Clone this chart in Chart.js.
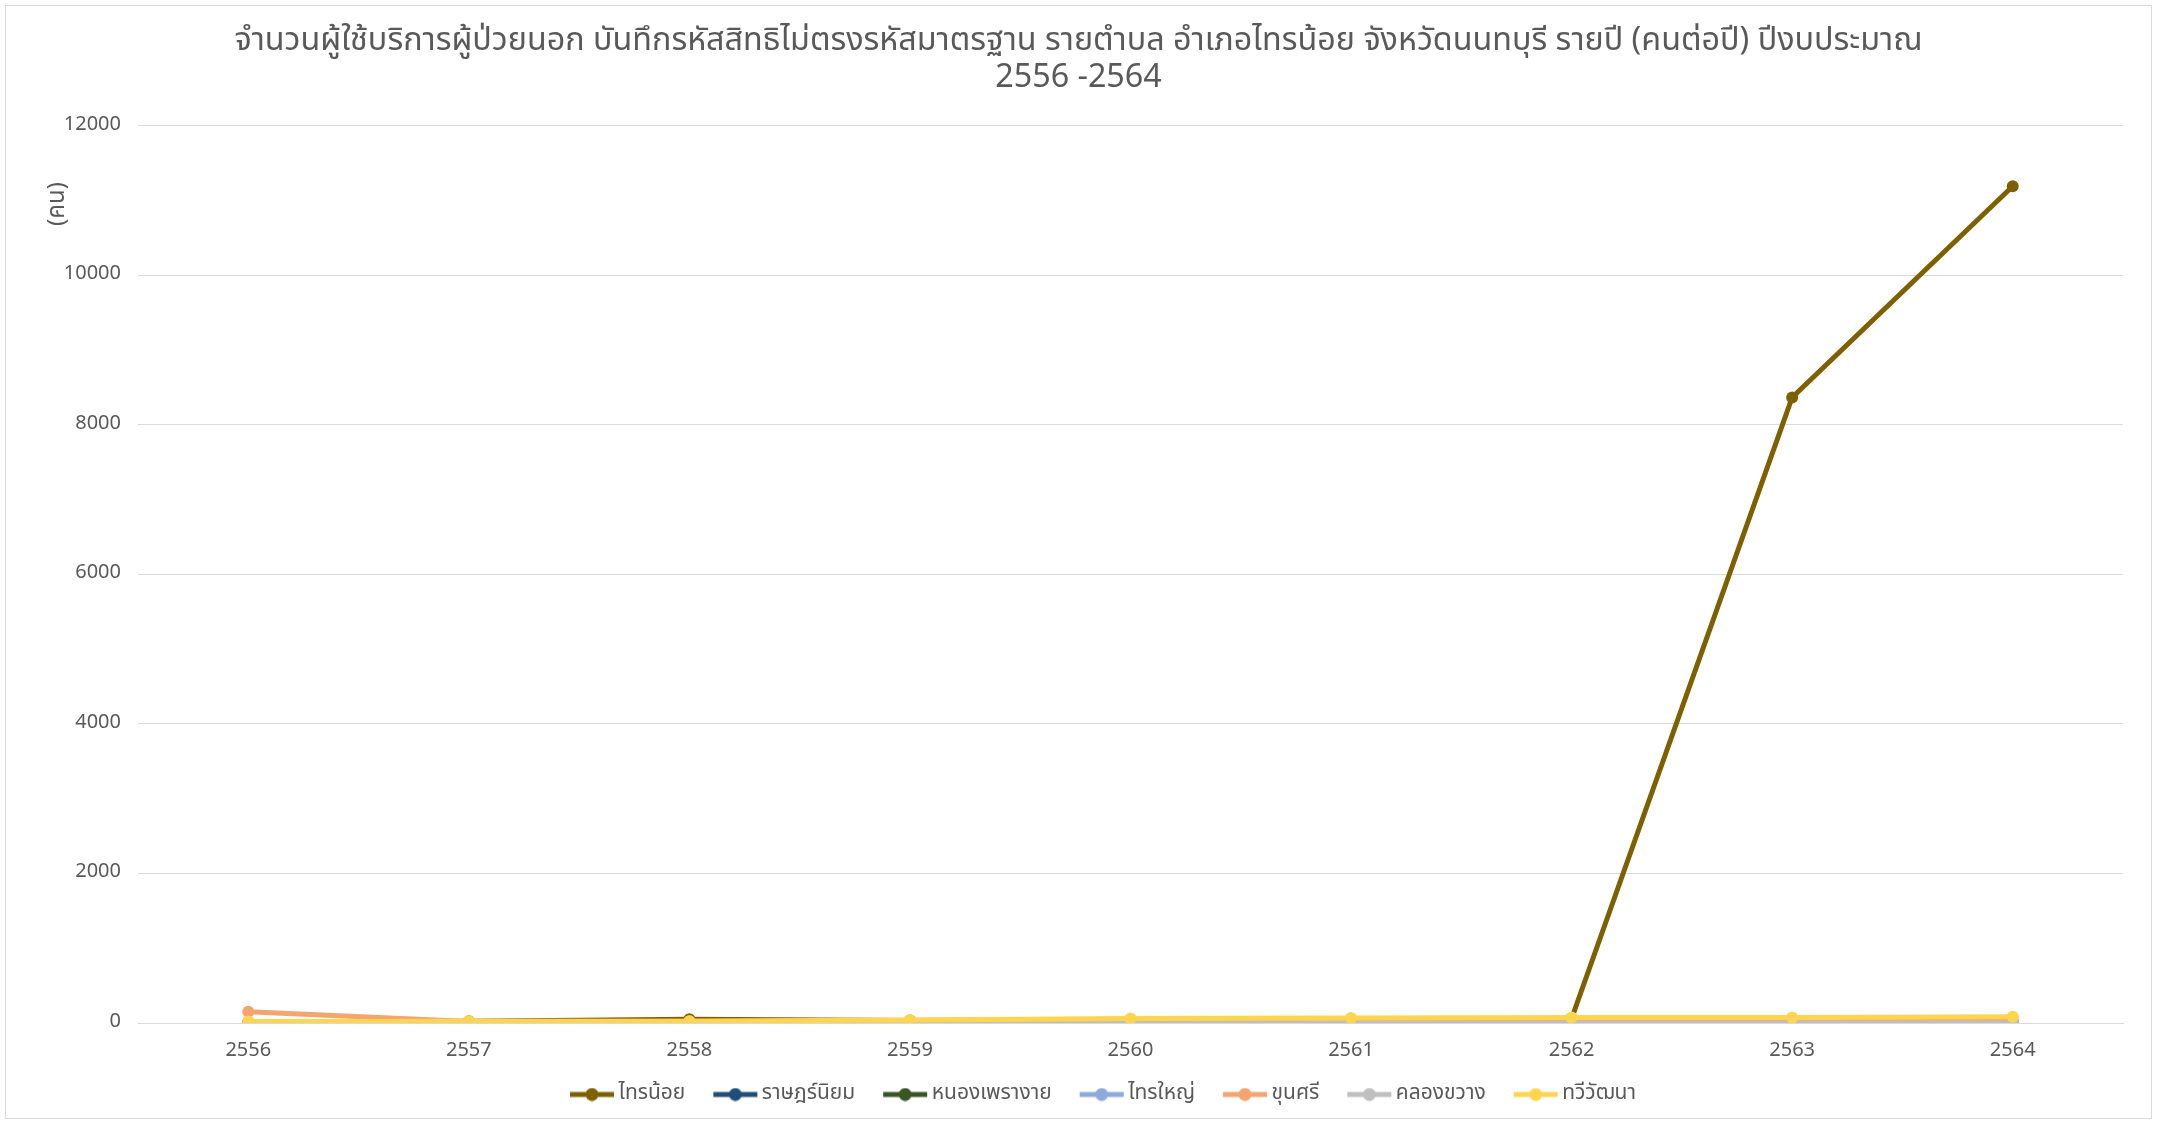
<!DOCTYPE html>
<html>
<head>
<meta charset="utf-8">
<script src="https://cdn.jsdelivr.net/npm/chart.js@4.4.1/dist/chart.umd.min.js"></script>
<style>
html,body{margin:0;padding:0;background:#fff;}
#wrap{width:2157px;height:1124px;position:relative;}
</style>
</head>
<body>
<div id="wrap"><canvas id="c" width="2157" height="1124"></canvas></div>
<script>
// ---- data ----
const categories = ["2556","2557","2558","2559","2560","2561","2562","2563","2564"];
const seriesNames = ["ไทรน้อย","ราษฎร์นิยม","หนองเพรางาย","ไทรใหญ่","ขุนศรี","คลองขวาง","ทวีวัฒนา"];
const saiNoi      = [10, 25, 50, 35, 45, 55, 60, 8365, 11190];
const ratNiyom    = [2, 1, 3, 2, 3, 4, 3, 5, 4];
const nongPhrao   = [5, 10, 15, 10, 12, 15, 12, 10, 8];
const saiYai      = [3, 5, 4, 6, 5, 8, 7, 6, 5];
const khunSi      = [150, 20, 25, 35, 50, 55, 60, 55, 55];
const khlongKhwang= [0, 1, 1, 0, 0, 0, 0, 0, 0];
const thawiWatthana=[20, 22, 25, 40, 60, 68, 75, 75, 85];
const yTicks = [0, 2000, 4000, 6000, 8000, 10000, 12000];
const titleLines = ["จำนวนผู้ใช้บริการผู้ป่วยนอก บันทึกรหัสสิทธิไม่ตรงรหัสมาตรฐาน รายตำบล อำเภอไทรน้อย จังหวัดนนทบุรี รายปี (คนต่อปี) ปีงบประมาณ", "2556 -2564"];
const yTitle = "(คน)";

const colors = ["#7F6000","#1F4E79","#375623","#8EA9DB","#F4A46F","#BFBFBF","#FFD54F"];
const values = [saiNoi, ratNiyom, nongPhrao, saiYai, khunSi, khlongKhwang, thawiWatthana];

const FONT = "'Noto Sans Thai','Leelawadee UI',Tahoma,'Open Sans','Noto Sans',sans-serif";
const TXT = "#595959";

// legend icon: line + dot, placed so it sits close to its text
const LEG_BOX = 63, LEG_W = 77, LEG_H = 14;
function legendIcon(color){
  const cv = document.createElement('canvas');
  cv.width = LEG_W; cv.height = LEG_H;
  const g = cv.getContext('2d');
  g.strokeStyle = color; g.lineWidth = 5; g.lineCap = 'butt';
  g.beginPath(); g.moveTo(LEG_W-45,7); g.lineTo(LEG_W-1,7); g.stroke();
  g.fillStyle = color; g.beginPath(); g.arc(LEG_W-23,7,6.5,0,Math.PI*2); g.fill();
  return cv;
}
const icons = colors.map(legendIcon);

const datasets = seriesNames.map((n,i)=>({
  label: n,
  data: values[i],
  borderColor: colors[i],
  backgroundColor: colors[i],
  borderWidth: 5,
  pointRadius: 6,
  pointHoverRadius: 6,
  pointBorderWidth: 0,
  pointBackgroundColor: colors[i],
  tension: 0,
  order: seriesNames.length - i
}));

const decor = {
  id: 'decor',
  afterLayout(chart){
    // center the title on the whole canvas, as in the reference
    if (chart.titleBlock) { chart.titleBlock.left = 0; chart.titleBlock.right = chart.width; }
    // nudge legend so its visible content is centred like the reference
    if (chart.legend) { chart.legend.left += 29; chart.legend.right += 29; }
  },
  beforeDraw(chart){
    const ctx = chart.ctx;
    ctx.save();
    ctx.fillStyle = '#fff';
    ctx.fillRect(0,0,chart.width,chart.height);
    ctx.strokeStyle = '#d9d9d9';
    ctx.lineWidth = 1;
    ctx.strokeRect(5.5,5.5,chart.width-11,chart.height-11);
    ctx.restore();
  },
  afterDraw(chart){
    const ctx = chart.ctx;
    ctx.save();
    ctx.translate(59, 204);
    ctx.rotate(-Math.PI/2);
    ctx.fillStyle = TXT;
    ctx.font = "24px " + FONT;
    ctx.textAlign = 'center';
    ctx.textBaseline = 'middle';
    ctx.fillText(yTitle, 0, 0);
    ctx.restore();
  }
};

new Chart(document.getElementById('c'), {
  type: 'line',
  data: { labels: categories, datasets },
  plugins: [decor],
  options: {
    responsive: false,
    animation: false,
    devicePixelRatio: 1,
    layout: { padding: { left: 0, right: 34, top: 0, bottom: 9 } },
    plugins: {
      title: {
        display: true,
        text: titleLines,
        color: TXT,
        font: { family: FONT, size: 32.3, weight: 'normal', lineHeight: 1.14 },
        padding: { top: 25, bottom: 27 }
      },
      legend: {
        position: 'bottom',
        labels: {
          color: TXT,
          font: { family: FONT, size: 21 },
          usePointStyle: true,
          pointStyleWidth: LEG_BOX,
          boxHeight: LEG_H,
          padding: 3,
          generateLabels(chart){
            return chart.data.datasets.map((d,i)=>({
              text: d.label,
              fillStyle: colors[i],
              strokeStyle: colors[i],
              lineWidth: 0,
              pointStyle: icons[i],
              datasetIndex: i,
              hidden: false,
              fontColor: TXT
            }));
          }
        }
      },
      tooltip: { enabled: false }
    },
    scales: {
      x: {
        offset: true,
        grid: { display: false, drawTicks: false },
        border: { display: true, color: '#d9d9d9', width: 1 },
        ticks: { color: TXT, font: { family: FONT, size: 20 }, padding: 17 }
      },
      y: {
        min: 0, max: 12000,
        afterBuildTicks(scale){ scale.ticks = yTicks.map(v=>({value:v})); },
        afterFit(scale){ scale.width = 138; },
        grid: { color: '#d9d9d9', lineWidth: 1, drawTicks: false },
        border: { display: false },
        ticks: { color: TXT, font: { family: FONT, size: 20 }, padding: 17, callback: v => String(v) }
      }
    }
  }
});
</script>
</body>
</html>
